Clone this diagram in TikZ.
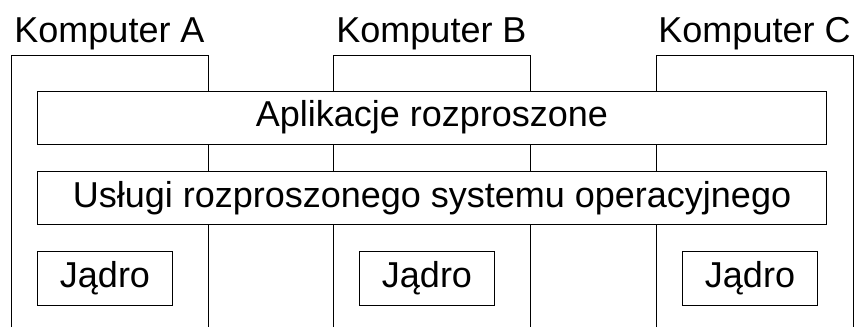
\documentclass[tikz,border=0pt]{standalone}
\usepackage{fontspec}
\setmainfont{Liberation Sans}
\usetikzlibrary{positioning}

\tikzset{
  ramka/.style={line width=1pt},
  blok/.style={draw, line width=1pt, fill=white, inner sep=0pt,
    font=\fontsize{36}{43}\selectfont},
  jadro/.style={blok, minimum width=135pt, minimum height=54pt, anchor=north west}
}

\begin{document}
\begin{tikzpicture}[x=1pt,y=-1pt]
  \useasboundingbox (0,0) rectangle (854,327);
  % ramki komputerow (otwarte od dolu) i ich podpisy
  \foreach \x/\n in {11/A,333/B,656/C} {
    \draw[ramka] (\x,327) -- (\x,55) -- ++(197,0) -- ++(0,272);
    \node[font=\fontsize{36}{43}\selectfont, anchor=base] (komp\n) at (\x+98.5,42) {Komputer \n};
  }
  % warstwy wspolne
  \node[blok, minimum width=789pt, minimum height=53pt, anchor=north west]
    (aplikacje) at (37,90.5) {Aplikacje rozproszone};
  \node[blok, minimum width=789pt, minimum height=53.5pt, anchor=north west]
    (uslugi) at (37,170.5) {Usługi rozproszonego systemu operacyjnego};
  % jadra
  \node[jadro] (jadroA) at (37,251) {Jądro};
  \node[jadro] (jadroB) at (359,251) {Jądro};
  \node[jadro] (jadroC) at (682,251) {Jądro};
\end{tikzpicture}
\end{document}
